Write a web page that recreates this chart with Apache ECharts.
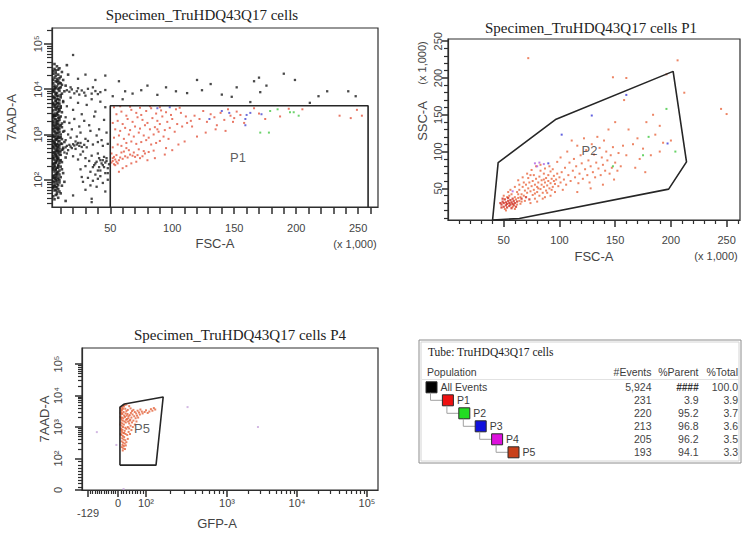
<!DOCTYPE html>
<html>
<head>
<meta charset="utf-8">
<title>Specimen_TruHDQ43Q17</title>
<script src="https://cdn.jsdelivr.net/npm/echarts@6/dist/echarts.min.js"></script>
<style>
  html, body { margin: 0; padding: 0; background: #fff; }
  #chart { width: 747px; height: 535px; }
</style>
</head>
<body>
<div id="chart"></div>
<script>
// ---------- plot 1 : FSC-A (x1000) vs 7AAD-A ----------
// debris band at the low FSC edge
const p1Debris = [
  [5,3.6e4],[7,3.2e4],[9,2.9e4],[6,2.6e4],[11,2.4e4],[4,2.2e4],[8,2.1e4],[10,1.9e4],[5,1.8e4],[7,1.7e4],
  [12,1.6e4],[6,1.5e4],[9,1.4e4],[4,1.35e4],[8,1.3e4],[11,1.25e4],[5,1.2e4],[7,1.15e4],[10,1.1e4],[6,1.05e4],
  [8,1e4],[4,9.6e3],[9,9.2e3],[13,9e3],[5,8.7e3],[7,8.3e3],[11,8e3],[6,7.6e3],[8,7.2e3],[4,6.9e3],
  [10,6.6e3],[5,6.3e3],[7,6e3],[9,5.7e3],[6,5.4e3],[12,5.2e3],[8,5e3],[4,4.7e3],[5,4.4e3],[10,4.2e3],
  [7,4e3],[6,3.8e3],[9,3.6e3],[4,3.4e3],[8,3.2e3],[11,3.1e3],[5,2.9e3],[7,2.8e3],[6,2.6e3],[10,2.5e3],
  [4,2.4e3],[8,2.3e3],[5,2.2e3],[9,2.1e3],[7,2e3],[13,1.9e3],[6,1.85e3],[4,1.8e3],[8,1.7e3],[10,1.6e3],
  [5,1.55e3],[7,1.5e3],[11,1.45e3],[6,1.4e3],[9,1.35e3],[4,1.3e3],[8,1.25e3],[5,1.2e3],[12,1.15e3],[7,1.1e3],
  [6,1.05e3],[10,1e3],[4,960],[8,920],[5,880],[9,850],[7,820],[11,790],[6,760],[4,730],
  [8,700],[13,680],[5,650],[10,630],[7,610],[6,590],[9,570],[4,550],[8,530],[12,510],
  [5,490],[7,470],[11,460],[6,440],[9,420],[4,400],[8,390],[5,370],[10,355],[7,340],
  [6,325],[14,310],[4,300],[8,290],[5,275],[9,265],[7,255],[11,245],[6,235],[4,225],
  [8,215],[5,205],[10,195],[7,185],[6,175],[4,168],[9,160],[5,152],[8,145],[12,140],
  [6,133],[7,126],[4,120],[10,114],[5,108],[8,102],[6,97],[4,92],[9,87],[7,82],
  [5,78],[11,74],[6,70],[4,66],[8,62],[5,58],[7,54],[10,50],[6,46],[4,43],
  [8,40],[5,37],[14,34],[9,55],[13,90],[15,3.4e4],[16,2.1e4],[14,1.2e4],
  [4,2.5e4],[4,1.6e4],[4,9e3],[4,5e3],[4,2.7e3],[4,1.6e3],[4,900],[4,520],[4,300],[4,180],
  [4,110],[4,70],[6,2.3e4],[8,1.55e4],[5,1e4],[7,7e3],[6,4.6e3],[8,3.7e3],[5,2.6e3],[7,1.75e3],
  [5,1.4e3],[8,1.05e3],[6,800],[5,620],[7,520],[6,380],[7,300],[5,230],[8,185],[7,150],
  [6,115],[5,88],[7,68],
  [5,2.8e4],[6,2.0e4],[7,1.45e4],[5,1.1e4],[6,8.0e3],[5,6.6e3],[6,5.6e3],[7,4.9e3],[5,4.1e3],[6,3.5e3],
  [7,3.0e3],[5,2.55e3],[6,2.15e3],[4,1.95e3],[6,1.65e3],[7,1.3e3],[5,1.12e3],[6,940],[7,780],[5,690],
  [6,560],[7,430],[5,410],[6,345],[4,330],[7,280],[6,250],[5,195],[6,165],[7,138],
  [5,125],[6,105],[7,92],[5,72],[6,60],[7,48],[8,2.7e4],[9,1.75e4],[10,1.35e4],[9,1.05e4],
  [10,7.4e3],[8,6.1e3],[9,4.8e3],[8,4.3e3],[9,3.3e3],[8,2.65e3],[9,2.35e3],[8,1.95e3],[9,1.55e3],[8,1.4e3],
  [9,1.15e3],[8,860],[9,720],[8,600],[9,490],[8,440],[9,360],[8,310],[9,235],[8,200],
  [9,130],[8,112],[9,98],[8,76],[10,3.9e3],[11,1.75e3],[10,870],[11,620],[10,270],[11,170]
];
// other events outside P1
const p1Black = [
  [15,9.5e3],[17,8.8e3],[19,9.9e3],[21,8.1e3],[23,9e3],[25,7.6e3],[27,9.4e3],[29,8.4e3],[32,1.02e4],[35,8e3],
  [38,9.1e3],[42,8.6e3],[46,9.6e3],[18,1.1e4],[24,1.05e4],[30,7.2e3],[36,1.1e4],[40,7.8e3],
  [10,420],[12,470],[14,520],[15,560],[17,590],[18,540],[20,610],[21,570],[23,600],[25,560],
  [27,530],[29,590],[31,520],[13,400],[16,450],[19,500],[22,480],[24,650],
  [12,5.5e3],[15,4.2e3],[18,6.5e3],[20,3.5e3],[24,5e3],[27,2.8e3],[31,4.5e3],[35,6e3],[38,3.2e3],[42,5.3e3],
  [46,4e3],[14,2.4e3],[17,1.8e3],[21,2.2e3],[25,1.5e3],[29,2e3],[33,1.6e3],[37,2.5e3],[41,1.3e3],[45,2.1e3],
  [13,1.2e3],[16,1e3],[19,1.3e3],[23,900],[26,1.1e3],[30,800],[34,1.2e3],[39,950],[43,750],[47,1.1e3],
  [14,750],[18,850],[22,700],[26,650],[32,720],[36,600],[40,680],[44,560],[48,620],[15,380],
  [20,330],[26,360],[30,300],[35,340],[40,380],[45,320],[28,420],[33,260],[38,230],[42,270],
  [46,240],[24,280],[36,190],[40,160],[44,210],[48,180],[30,200],[34,150],[38,130],[42,120],
  [46,140],[26,170],[32,110],[36,95],[40,105],[44,85],[48,100],[28,90],[34,75],[30,60],
  [39,70],[20,45],[35,38],[46,55],[27,115],[41,190],[47,300],[43,230],[45,190],[47,260],
  [49,220],[42,160],[48,140],[37,210],[39,250],[44,270],[41,300],[35,32],
  [20,5.7e4],[46,2e4],[30,2.1e4],[38,1.6e4],[24,1.7e4],[52,7e3],[57,1.5e4],[62,9e3],[68,8e3],[75,9.5e3],
  [80,1.2e4],[88,7.5e3],[95,1.1e4],[103,9e3],[112,8.2e3],[120,1.6e4],[124,9.5e3],[131,1.3e4],[140,7.6e3],[148,6.8e3],
  [152,1.1e4],[163,5.2e3],[166,1.5e4],[170,1.8e4],[171,8.6e3],[176,1.2e4],[199,1.6e4],[211,5e3],[218,7e3],[225,9e3],
  [242,9e3],[248,7e3],[60,6e3],[190,2.2e4]
];
const p1Red = [
  [51,240],[52,260],[53,220],[54,280],[55,250],[56,230],[52,300],[54,210],[57,270],[53,320],
  [51,380],[55,350],[58,310],[60,290],[62,330],[64,310],[66,360],[68,340],[70,320],[72,350],
  [74,300],[76,330],[78,380],[61,420],[65,450],[69,400],[73,470],[77,430],[81,410],[85,440],
  [52,520],[56,600],[59,560],[63,650],[67,700],[71,620],[75,680],[79,750],[83,600],[87,650],
  [90,720],[53,850],[57,950],[61,800],[65,1000],[69,900],[73,1100],[77,950],[81,850],[85,1000],
  [89,1150],[93,900],[97,800],[54,1300],[58,1200],[62,1400],[66,1250],[70,1500],[74,1350],[78,1600],
  [82,1300],[86,1450],[90,1700],[94,1250],[98,1400],[102,1150],[52,1800],[56,2000],[60,1700],[64,2200],
  [68,1900],[72,2400],[76,2100],[80,1800],[84,2300],[88,2000],[92,2500],[96,1900],[100,2200],[104,1700],
  [108,1500],[55,2800],[59,3200],[63,2600],[67,3500],[71,3000],[75,2700],[79,3300],[83,3800],[87,2900],
  [91,3400],[95,3100],[99,2700],[103,3600],[107,3000],[111,2500],[115,2000],[53,4000],[58,4200],[66,4100],
  [74,3900],[82,4200],[90,4000],[106,3900],[112,1800],[116,1500],[118,2600],[122,2200],[125,3300],[128,1900],
  [131,2800],[134,2400],[136,1600],[139,3000],[142,2100],[145,3600],[147,2600],[149,1900],[150,2300],[152,3200],
  [155,2700],[158,1800],[166,3800],[170,2900],[175,2200],[187,2500],[194,3700],[205,3600],[235,2600],
  [244,2300],[249,3500],[253,2600],[57,150],[60,180],[63,200],[67,230],[71,250],[80,270],[86,300],
  [95,500],[105,600],[110,700],[120,900],[127,1100],[135,1300],[143,1200],[94,360],[100,450],[59,400],
  [63,500],[88,1300]
];
const p1Blue = [[146,3000],[160,2700],[163,3000],[159,2200],[159,1600],[172,2800],[130,2200],[98,4000],[88,3800],[140,3300]];
const p1Green = [[179,3300],[185,3600],[195,3100],[198,3100],[202,2600],[171,1100],[178,1100]];
const p1Gate = [[50,25],[50,4300],[258,4300],[258,25]];
const p1GateTag = [153,318];
const p1XLabels = [50,100,150,200,250];
const p1YLabels = [100,1000,10000,100000];

// ---------- plot 2 : FSC-A vs SSC-A (both x1000), events in P1 ----------
const p2Dark = [
  [48,28],[49,32],[50,25],[50,30],[51,35],[52,27],[52,31],[53,24],[53,29],[54,33],
  [54,37],[55,26],[55,30],[56,28],[56,34],[57,31],[57,23],[58,36],[58,29],[59,27],
  [59,33],[60,30],[61,25],[62,32],[49,36],[47,30],[48,24],[66,36],[70,38],[73,35]
];
const p2Orange = [
  [60,38],[61,35],[51,22],[62,28],[63,37],[64,33],[55,40],[57,42],[52,20],[58,25],
  [60,22],[54,45],[56,48],[50,40],[63,42],[65,29],[53,38],
  [62,45],[64,48],[66,42],[67,52],[68,40],[69,47],[70,55],[71,44],[72,50],[73,58],
  [74,46],[75,53],[76,41],[76,60],[77,48],[78,55],[78,36],[79,63],[80,45],[80,52],
  [81,58],[82,40],[82,66],[83,49],[84,55],[84,61],[85,44],[86,70],[86,52],[87,58],
  [88,64],[88,47],[89,54],[90,60],[90,68],[91,50],[92,57],[92,73],[93,63],[94,52],
  [95,60],[95,67],[96,56],[97,62],[98,70],[66,32],[68,58],[72,64],[74,30],[77,68],
  [80,32],[83,74],[85,36],[64,55],[63,61],[67,65],[71,70],[75,75],[79,80],[83,82],
  [87,77],[91,80],[94,76],[78,43],[81,50],[86,62],[89,44],[93,48],[96,45],[99,53],
  [100,65],[101,58],[102,72],[60,52],[65,38],[69,33],[74,68],[87,38],[92,40],
  [104,62],[105,78],[106,55],[108,68],[109,85],[110,60],[112,74],[113,90],[114,65],[115,80],
  [117,57],[118,70],[119,95],[120,84],[121,63],[123,76],[124,102],[125,68],[126,88],[127,58],
  [128,80],[129,110],[130,72],[131,96],[132,65],[133,85],[134,120],[135,77],[136,105],[137,68],
  [138,92],[139,82],[140,115],[141,74],[142,100],[143,88],[145,70],[146,95],[147,78],[148,106],
  [150,85],[152,74],[153,98],[155,80],[107,100],[111,115],[116,108],[122,118],[98,86],[101,92],
  [103,48],[116,45],[128,50],[139,55],[149,62],[144,130],[150,140],[157,108],[160,95],
  [162,130],[166,110],[170,118],[175,104],[178,140],[182,95],[186,123],[190,135],[193,112],[172,90],
  [184,150],[160,200],[148,201],[206,224],[212,180],[245,158],[250,151],[72,227],[196,205],[158,170],
  [168,78],[177,72],[190,100],[200,115]
];
const p2Blue = [[102,123],[129,149],[160,177],[197,111],[90,84]];
const p2Green = [[196,158],[204,100],[180,120],[148,80],[175,95]];
const p2Magenta = [[78,84],[82,85],[86,83],[80,80],[58,46]];
const p2Gate = [[40,7],[45,85],[97,144],[202,209],[214,86],[198,49],[64,9],[40,7]];
const p2GateTag = [127,101];
const p2Labels = [50,100,150,200,250];

// ---------- plot 3 : GFP-A vs 7AAD-A, events in P4 ----------
const p3Orange = [
  [9,4000],[12,3600],[15,4200],[10,3200],[18,3800],[13,2800],[20,3000],[11,2500],[16,2600],[22,2300],
  [9,2100],[14,2000],[19,1900],[25,2100],[12,1700],[17,1600],[23,1500],[10,1400],[15,1300],[21,1200],
  [28,1400],[13,1100],[18,1000],[26,950],[11,900],[16,820],[24,760],[30,880],[14,700],[19,640],
  [27,600],[12,560],[17,520],[22,480],[33,560],[15,440],[20,400],[26,380],[13,350],[18,320],
  [24,300],[16,270],[21,250],[14,230],[19,210],[25,200],[17,180],[30,330],[35,420],[28,260],
  [10,600],[12,800],[8,1200],[11,1900],[9,2800],[14,3400],[21,4500],[26,3800],[30,3200],[34,2600],
  [38,2200],[32,1800],[29,1700],[36,1500],[40,1300],[44,1700],[48,2000],[42,2400],[46,2800],[50,3200],
  [55,3500],[60,3000],[65,2700],[70,3300],[75,2900],[80,3600],[85,3100],[52,2500],[58,2200],[63,1900],
  [68,2300],[72,2000],[78,2500],[88,2700],[95,3000],[100,3400],[105,2800],[110,3100],[115,3700],[120,3300],
  [125,4000],[130,3600],[40,900],[45,1100],[50,1400],[55,1600],[38,700],[43,600],[48,800],[53,1000],
  [22,650],[35,1000],[60,1200],[66,1500],[24,5000],[30,5200],[40,4600],[18,4800],[45,3900],[35,3500],
  [27,2700],[31,2300],[37,1900],[42,1600]
];
const p3Outside = [[-91,690],[326,4300],[2770,1000],[-7,270],[20,3]];
const p3Gate = [[7,79],[7,4300],[23,5400],[163,9000],[133,79],[7,79]];
const p3GateTag = [86,870];
const p3XTicks = [-129,0,100,1000,10000,100000];
const p3XTickText = ['{low|-129}','0','10²','10³','10⁴','10⁵'];
const p3YTicks = [0,100,1000,10000,100000];
const p3YTickText = ['0','10²','10³','10⁴','10⁵'];

// ---------- population table ----------
const tubeTitle = 'Tube: TruHDQ43Q17 cells';
const tableHeads = ['Population','#Events','%Parent','%Total'];
const popNames = ['All Events','P1','P2','P3','P4','P5'];
const popColors = ['#000000','#ee1111','#22dd22','#1111dd','#dd11dd','#c8401a'];
const popEvents = [5924,231,220,213,205,193];
const popParent = [null,3.9,95.2,96.8,96.2,94.1];
const popTotal = [100.0,3.9,3.7,3.6,3.5,3.3];

// ---------- helpers ----------
const SANS = '"Liberation Sans", Arial, sans-serif';
const SERIF = '"Liberation Serif", "Times New Roman", serif';
const AX = '#2e2e2e', TXT = '#444';
const SUP = '⁰¹²³⁴⁵⁶';

// display transform for the biexponential axes of plot 3 (log above 1000)
function biex(v, anchors, u100) {
  if (v >= 1000) return Math.log10(v);
  if (v >= 100) return u100 + (Math.log10(v) - 2) * (3 - u100);
  for (let i = 1; i < anchors.length; i++) {
    const [v0, u0] = anchors[i - 1], [v1, u1] = anchors[i];
    if (v <= v1 || i === anchors.length - 1) return u0 + (v - v0) * (u1 - u0) / (v1 - v0);
  }
}
const gfpU = v => biex(v, [[-129, 1.015], [0, 1.443], [100, 1.843]], 1.843);
const aadU = v => biex(v, [[0, 1], [100, 2]], 2);
const toP3 = arr => arr.map(([g, a]) => [gfpU(g), aadU(a)]);

function steps(a, b, s, skip) {
  const out = [];
  for (let v = a; v <= b; v += s) if (!skip || skip.indexOf(v) < 0) out.push(v);
  return out;
}
function logMinor(min, max) {
  const out = [];
  for (let d = 1; d <= 1e5; d *= 10)
    for (let k = 2; k <= 9; k++) if (k * d >= min && k * d <= max) out.push(k * d);
  return out;
}
function nearestText(values, texts) {
  return v => {
    let bi = 0;
    values.forEach((u, i) => { if (Math.abs(u - v) < Math.abs(values[bi] - v)) bi = i; });
    return texts[bi];
  };
}

function axis(o) {
  const a = {
    type: o.type || 'value', gridIndex: o.grid, min: o.min, max: o.max, position: o.pos,
    axisLine: { show: o.line !== false, onZero: false, lineStyle: { color: AX, width: 1.2 } },
    splitLine: { show: false },
    axisTick: { show: true, length: o.tickLen, customValues: o.ticks, lineStyle: { color: AX, width: o.tickW || 1.2 } },
    axisLabel: o.labels ? {
      customValues: o.labels, margin: o.margin, rotate: o.rotate || 0, formatter: o.fmt,
      fontSize: 11, color: TXT, fontFamily: SANS, rich: o.rich
    } : { show: false }
  };
  if (o.name) {
    a.name = o.name; a.nameLocation = 'middle'; a.nameGap = o.nameGap;
    a.nameTextStyle = { fontSize: 13, color: TXT, fontFamily: SANS };
  }
  return a;
}

const p3XU = p3XTicks.map(gfpU), p3YU = p3YTicks.map(aadU);
const p3XMinor = steps(-120, 90, 10, [0]).concat(logMinor(150, 1e5)).map(gfpU);
const p3YMinor = steps(10, 90, 10).concat(logMinor(150, 1e5)).map(aadU);
const logFmt = v => '10' + SUP[Math.round(Math.log10(v))];

const xAxis = [
  axis({ grid: 0, min: 3, max: 266, pos: 'bottom', tickLen: 7, tickW: 1.5, ticks: steps(10, 260, 10),
         labels: p1XLabels, margin: 15, name: 'FSC-A', nameGap: 30 }),
  axis({ grid: 1, min: 0, max: 262, pos: 'bottom', tickLen: 7, tickW: 1.5, ticks: p2Labels,
         labels: p2Labels, margin: 14, name: 'FSC-A', nameGap: 30 }),
  axis({ grid: 1, min: 0, max: 262, pos: 'bottom', tickLen: 4, ticks: steps(10, 260, 10, p2Labels), line: false }),
  axis({ grid: 2, min: 0.929, max: 5.157, pos: 'bottom', tickLen: 7, tickW: 1.5, ticks: p3XU,
         labels: p3XU, margin: 7, fmt: nearestText(p3XU, p3XTickText),
         rich: { low: { padding: [10, 0, 0, 0], fontSize: 11, color: TXT, fontFamily: SANS } } }),
  axis({ grid: 2, min: 0.929, max: 5.157, pos: 'bottom', tickLen: 4, ticks: p3XMinor, line: false })
];
const yAxis = [
  axis({ type: 'log', grid: 0, min: 25, max: 225000, pos: 'left', tickLen: 8, tickW: 1.5, ticks: p1YLabels,
         labels: p1YLabels, margin: 9, rotate: 90, fmt: logFmt, name: '7AAD-A', nameGap: 34 }),
  axis({ type: 'log', grid: 0, min: 25, max: 225000, pos: 'left', tickLen: 5, ticks: logMinor(25, 225000), line: false }),
  axis({ grid: 1, min: 7, max: 253, pos: 'left', tickLen: 6, tickW: 1.5, ticks: p2Labels,
         labels: p2Labels, margin: 5, rotate: 90 }),
  axis({ grid: 1, min: 7, max: 253, pos: 'left', tickLen: 4, ticks: steps(10, 250, 10, p2Labels), line: false }),
  axis({ grid: 2, min: 1, max: 5.51, pos: 'left', tickLen: 7, tickW: 1.5, ticks: p3YU,
         labels: p3YU, margin: 19, rotate: 90, fmt: nearestText(p3YU, p3YTickText), name: '7AAD-A', nameGap: 29 }),
  axis({ grid: 2, min: 1, max: 5.51, pos: 'left', tickLen: 4, ticks: p3YMinor, line: false })
];

function dots(data, color, size, xi, yi) {
  return { type: 'scatter', xAxisIndex: xi, yAxisIndex: yi, data, symbol: 'rect', symbolSize: size,
           itemStyle: { color }, silent: true, z: 2 };
}
function gate(data, xi, yi) {
  return { type: 'line', xAxisIndex: xi, yAxisIndex: yi, data, symbol: 'none', showSymbol: false,
           lineStyle: { color: '#262626', width: 1.6 }, silent: true, z: 4 };
}
function tag(name, pos, xi, yi) {
  return { type: 'scatter', xAxisIndex: xi, yAxisIndex: yi, data: [{ name, value: pos }], symbolSize: 0,
           label: { show: true, position: 'inside', formatter: '{b}', fontSize: 13, color: '#333', fontFamily: SANS },
           silent: true, z: 5 };
}

const series = [
  dots(p1Debris, '#161616', 2.6, 0, 0),
  dots(p1Black, '#1c1c1c', 2.3, 0, 0),
  dots(p1Red, '#e2553f', 2, 0, 0),
  dots(p1Blue, '#4848d0', 2, 0, 0),
  dots(p1Green, '#48c848', 2, 0, 0),
  gate(p1Gate, 0, 0),
  tag('P1', p1GateTag, 0, 0),
  dots(p2Orange, '#e8663e', 2, 1, 2),
  dots(p2Dark, '#d02a1c', 2.2, 1, 2),
  dots(p2Blue, '#3a3ad8', 2, 1, 2),
  dots(p2Green, '#40c840', 2, 1, 2),
  dots(p2Magenta, '#b060e0', 2, 1, 2),
  gate(p2Gate, 1, 2),
  tag('P2', p2GateTag, 1, 2),
  dots(toP3(p3Outside), '#c8a8dc', 2, 3, 4),
  dots(toP3(p3Orange), '#e3613a', 2, 3, 4),
  gate(toP3(p3Gate), 3, 4),
  tag('P5', toP3([p3GateTag])[0], 3, 4)
];

// ---------- titles, extra axis notes and the population table ----------
function text(t, x, y, font, opt) {
  return Object.assign({ type: 'text', x, y, silent: true,
    style: Object.assign({ text: t, font, fill: '#333', align: 'center', verticalAlign: 'middle' }, (opt && opt.style) || {}) },
    opt && opt.rotation ? { rotation: opt.rotation } : {});
}
const graphic = [
  text('Specimen_TruHDQ43Q17 cells', 202, 15, '15px ' + SERIF, { style: { fill: '#222' } }),
  text('Specimen_TruHDQ43Q17 cells P1', 591, 28, '15px ' + SERIF, { style: { fill: '#222' } }),
  text('Specimen_TruHDQ43Q17 cells P4', 240, 335, '15px ' + SERIF, { style: { fill: '#222' } }),
  text('(x 1,000)', 355, 244, '11px ' + SANS, { style: { fill: TXT } }),
  text('(x 1,000)', 716, 256, '11px ' + SANS, { style: { fill: TXT } }),
  text('(x 1,000)', 422, 63, '11px ' + SANS, { rotation: Math.PI / 2, style: { fill: TXT } }),
  text('SSC-A', 422, 121, '13px ' + SANS, { rotation: Math.PI / 2, style: { fill: TXT } }),
  text('GFP-A', 217, 523, '13px ' + SANS, { style: { fill: TXT } })
];

const tbl = { x: 419, y: 340, w: 322, h: 123, rowTop: 387.3, rowH: 13, sqLeft: 426, indent: 16.4, sq: 11,
              cols: [651.5, 698.5, 738] };
graphic.push({ type: 'rect', silent: true, shape: { x: tbl.x, y: tbl.y, width: tbl.w, height: tbl.h },
               style: { fill: '#fff', stroke: '#8c8c8c', lineWidth: 1 } });
graphic.push({ type: 'rect', silent: true, shape: { x: tbl.x + 2, y: tbl.y + 2, width: tbl.w - 4, height: tbl.h - 4 },
               style: { fill: 'none', stroke: '#d4d4d4', lineWidth: 1 } });
graphic.push(text(tubeTitle, 428, 352, '11.5px ' + SERIF, { style: { fill: '#222', align: 'left' } }));
graphic.push(text(tableHeads[0], 427, 372, '10.5px ' + SANS, { style: { fill: '#3c3c3c', align: 'left' } }));
tableHeads.slice(1).forEach((h, i) =>
  graphic.push(text(h, tbl.cols[i], 372, '10.5px ' + SANS, { style: { fill: '#3c3c3c', align: 'right' } })));
graphic.push({ type: 'line', silent: true, shape: { x1: 422, y1: 379.5, x2: 739, y2: 379.5 },
               style: { stroke: '#e2e2e2', lineWidth: 1 } });

popNames.forEach((name, i) => {
  const cy = tbl.rowTop + i * tbl.rowH;
  const sx = tbl.sqLeft + i * tbl.indent;
  if (i > 0) {
    const px = tbl.sqLeft + (i - 1) * tbl.indent + 4.5;
    graphic.push({ type: 'polyline', silent: true,
      shape: { points: [[px, cy - tbl.rowH + tbl.sq / 2], [px, cy], [sx, cy]] },
      style: { stroke: '#a0a0a0', lineWidth: 1, fill: null } });
  }
  graphic.push({ type: 'rect', silent: true, shape: { x: sx, y: cy - tbl.sq / 2, width: tbl.sq, height: tbl.sq },
                 style: { fill: popColors[i], stroke: '#2a2a2a', lineWidth: 1 } });
  graphic.push(text(name, sx + 14.5, cy, '10.5px ' + SANS, { style: { fill: '#3c3c3c', align: 'left' } }));
  graphic.push(text(popEvents[i].toLocaleString('en-US'), tbl.cols[0], cy, '10.5px ' + SANS,
                    { style: { fill: '#444', align: 'right' } }));
  graphic.push(popParent[i] === null
    ? text('####', tbl.cols[1], cy, 'italic bold 10px ' + SANS, { style: { fill: '#333', align: 'right' } })
    : text(popParent[i].toFixed(1), tbl.cols[1], cy, '10.5px ' + SANS, { style: { fill: '#444', align: 'right' } }));
  graphic.push(text(popTotal[i].toFixed(1), tbl.cols[2], cy, '10.5px ' + SANS,
                    { style: { fill: '#444', align: 'right' } }));
});

const chart = echarts.init(document.getElementById('chart'), null, { renderer: 'svg' });
chart.setOption({
  animation: false,
  backgroundColor: '#fff',
  grid: [
    { left: 52, top: 28, width: 326, height: 179, show: true, borderColor: AX, borderWidth: 1.2, outerBoundsMode: 'none' },
    { left: 448, top: 39, width: 292, height: 181, show: true, borderColor: AX, borderWidth: 1.2, outerBoundsMode: 'none' },
    { left: 82, top: 348, width: 296, height: 142, show: true, borderColor: AX, borderWidth: 1.2, outerBoundsMode: 'none' }
  ],
  xAxis,
  yAxis,
  series,
  graphic
});
</script>
</body>
</html>
